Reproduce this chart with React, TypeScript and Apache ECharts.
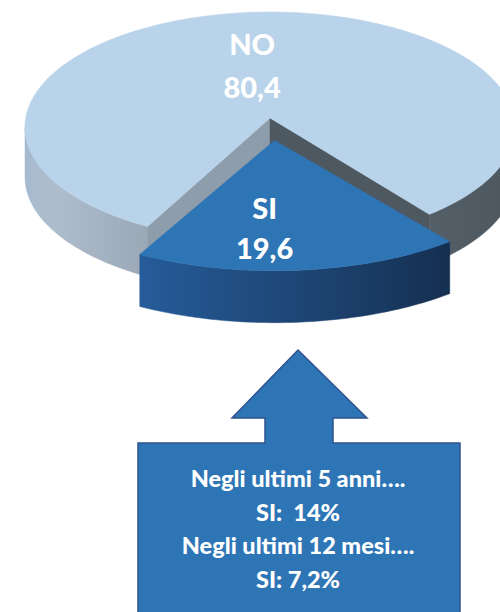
import React, { useEffect, useRef } from "react";
import * as echarts from "echarts";

// ---- data ----
const categories = ["NO", "SI"];
const values = [80.4, 19.6];
const calloutLines = ["Negli ultimi 5 anni….", "SI:  14%", "Negli ultimi 12 mesi….", "SI: 7,2%"];

// ---- layout / style ----
const CX = 270;
const CY = 127;
const RA = 245;
const RB = 115;
const APEX_DY = -9;
const START = 120; // clockwise, screen degrees
const sliceStyle: Record<string, any> = {
  NO: {
    top: "#B9D3EA",
    cutStart: "#8E9DAC",
    cutEnd: "#4E5861",
    thick: 50,
    explode: 0,
    sx: 1,
    sy: 1,
    wall: [
      [0, "#4A545C"],
      [50, "#535E66"],
      [120, "#9BA9B7"],
      [150, "#AEBDCC"],
      [180, "#A4B9CF"],
    ],
    label: [-0.073, -0.465],
    labelGap: 43,
  },
  SI: {
    top: "#2E75B6",
    cutStart: "#1F4E80",
    cutEnd: "#1F4E80",
    thick: 52,
    explode: 0.2,
    sx: 1.1,
    sy: 1.05,
    wall: [
      [0, "#132A47"],
      [50, "#152F50"],
      [120, "#265C9A"],
      [180, "#2B67A8"],
    ],
    label: [-0.037, 0.72],
    labelGap: 40,
  },
};

const total = values.reduce((s, v) => s + v, 0);
const angles: [number, number][] = [];
{
  let a = START;
  values.forEach((v) => {
    const span = (v / total) * 360;
    angles.push([a, a + span]);
    a += span;
  });
}

const rad = (d: number) => (d * Math.PI) / 180;

function hexToRgb(h: string) {
  const n = parseInt(h.slice(1), 16);
  return [(n >> 16) & 255, (n >> 8) & 255, n & 255];
}
function shade(stops: any[], deg: number) {
  let t = ((deg % 360) + 360) % 360;
  if (t > 180) t = 180;
  for (let i = 0; i < stops.length - 1; i++) {
    const [a0, c0] = stops[i];
    const [a1, c1] = stops[i + 1];
    if (t >= a0 && t <= a1) {
      const f = (t - a0) / (a1 - a0 || 1);
      const r0 = hexToRgb(c0);
      const r1 = hexToRgb(c1);
      const c = r0.map((v, k) => Math.round(v + (r1[k] - v) * f));
      return `rgb(${c[0]},${c[1]},${c[2]})`;
    }
  }
  return stops[stops.length - 1][1];
}

function renderItem(params: any, api: any) {
  const i = params.dataIndex;
  const name = categories[i];
  const st = sliceStyle[name];
  const [s, e] = angles[i];
  const mid = (s + e) / 2;
  const cx = CX + st.explode * RA * Math.cos(rad(mid));
  const cy = CY + st.explode * RB * Math.sin(rad(mid));
  const a = RA * st.sx;
  const b = RB * st.sy;
  const T = st.thick;
  const ax = cx;
  const ay = cy + APEX_DY * st.sy;
  const pt = (d: number, dy = 0) => [cx + a * Math.cos(rad(d)), cy + b * Math.sin(rad(d)) + dy];
  const arc = (d0: number, d1: number, dy = 0) => {
    const pts: number[][] = [];
    const n = Math.max(2, Math.ceil(Math.abs(d1 - d0) / 1.5));
    for (let k = 0; k <= n; k++) pts.push(pt(d0 + ((d1 - d0) * k) / n, dy));
    return pts;
  };
  const children: any[] = [];

  // outer walls (front-facing parts)
  for (const k of [0, 360, 720]) {
    const lo = Math.max(s, k);
    const hi = Math.min(e, k + 180);
    if (lo < hi) {
      const pts = arc(lo, hi).concat(arc(hi, lo, T));
      const cLo = Math.cos(rad(lo));
      const cHi = Math.cos(rad(hi));
      const stops: any[] = [];
      const n = Math.max(2, Math.ceil((hi - lo) / 5));
      for (let j = 0; j <= n; j++) {
        const d = lo + ((hi - lo) * j) / n;
        const off = Math.abs(cLo - cHi) < 1e-6 ? 0 : (Math.cos(rad(d)) - cHi) / (cLo - cHi);
        stops.push({ offset: Math.min(1, Math.max(0, off)), color: shade(st.wall, d) });
      }
      stops.sort((p: any, q: any) => p.offset - q.offset);
      const grad = new echarts.graphic.LinearGradient(0, 0, 1, 0, stops);
      children.push({
        type: "polygon",
        shape: { points: pts },
        style: { fill: grad, stroke: grad, lineWidth: 0.5 },
      });
    }
  }
  // cut faces
  const faceVisible = (d: number, dir: number) => Math.sin(rad(d + dir)) > 0;
  if (faceVisible(s, -90)) {
    const p = pt(s);
    children.push({
      type: "polygon",
      shape: { points: [[ax, ay], p, [p[0], p[1] + T], [ax, ay + T]] },
      style: { fill: st.cutStart, stroke: st.cutStart, lineWidth: 0.5 },
    });
  }
  if (faceVisible(e, 90)) {
    const p = pt(e);
    children.push({
      type: "polygon",
      shape: { points: [[ax, ay], p, [p[0], p[1] + T], [ax, ay + T]] },
      style: { fill: st.cutEnd, stroke: st.cutEnd, lineWidth: 0.5 },
    });
  }
  // top face
  children.push({
    type: "polygon",
    shape: { points: [[ax, ay]].concat(arc(s, e)) },
    style: { fill: st.top, stroke: st.top, lineWidth: 0.5 },
  });
  // labels
  const lx = ax + st.label[0] * a;
  const ly = ay + st.label[1] * b;
  const val = api.value(0);
  const valText = Number(val).toFixed(1).replace(".", ",");
  [name, valText].forEach((t, k) => {
    children.push({
      type: "text",
      x: lx,
      y: ly + (k - 0.5) * st.labelGap,
      style: {
        text: t,
        fill: "#FFFFFF",
        fontSize: 29,
        fontWeight: 900,
        fontFamily: "Lato",
        align: "center",
        verticalAlign: "middle",
      },
    });
  });
  return { type: "group", children };
}

export default function App() {
  const ref = useRef<HTMLDivElement>(null);
  useEffect(() => {
    if (!ref.current) return;
    const chart = echarts.init(ref.current, undefined, { renderer: "svg" });
    const arrowPts = [
      [298, 350],
      [367, 418],
      [333, 418],
      [333, 443],
      [460, 443],
      [460, 640],
      [138, 640],
      [138, 443],
      [265, 443],
      [265, 418],
      [232, 418],
    ];
    const lineY = [478, 512, 545, 579];
    chart.setOption({
      animation: false,
      backgroundColor: "#FFFFFF",
      series: [
        {
          type: "custom",
          coordinateSystem: "none",
          silent: true,
          renderItem,
          data: values.map((v, i) => ({ name: categories[i], value: v })),
        },
      ],
      graphic: {
        elements: [
          {
            type: "polygon",
            shape: { points: arrowPts },
            style: { fill: "#2E75B6", stroke: "#2F528F", lineWidth: 1.5 },
          },
          ...calloutLines.map((t, k) => ({
            type: "text",
            x: 298,
            y: lineY[k],
            style: {
              text: t,
              fill: "#FFFFFF",
              fontSize: 23.5,
              fontWeight: 900,
              fontFamily: "Lato",
              align: "center",
              verticalAlign: "middle",
            },
          })),
        ],
      },
    });
    return () => chart.dispose();
  }, []);
  return (
    <div
      ref={ref}
      style={{ position: "fixed", left: 0, top: 0, width: 500, height: 612 }}
    />
  );
}
